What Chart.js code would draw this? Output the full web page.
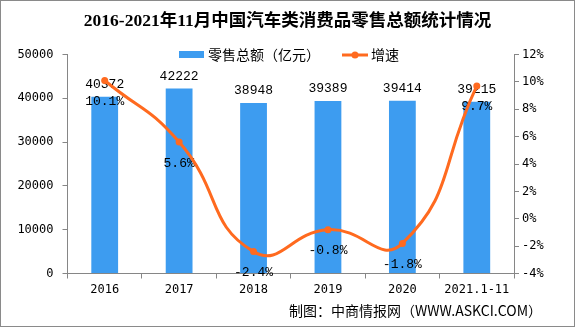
<!DOCTYPE html>
<html>
<head>
<meta charset="utf-8">
<script src="https://cdn.jsdelivr.net/npm/chart.js@4"></script>
<style>
  body { margin: 0; background: #fff; }
  canvas { display: block; }
</style>
</head>
<body>
<canvas id="grafico" width="575" height="327"></canvas>
<script>
const anos = ["2016", "2017", "2018", "2019", "2020", "2021.1-11"];
const vendas = [40372, 42222, 38948, 39389, 39414, 39215];
const crescimento = [10.1, 5.6, -2.4, -0.8, -1.8, 9.7];
const ticksEsquerda = [0, 10000, 20000, 30000, 40000, 50000];
const ticksDireita = [-4, -2, 0, 2, 4, 6, 8, 10, 12];

const azul = "#3d9cf0";
const laranja = "#ff6a1f";
const cinza = "#868686";
const fonteTexto = '"Noto Sans CJK SC", sans-serif';
const fonteNum = '"DejaVu Sans Mono", monospace';
const fonteRotulo = '"Liberation Mono", monospace';

// rotulos dos valores, desenhados logo depois das barras (a linha passa por cima)
const rotulos = {
  id: "rotulos",
  afterDatasetDraw(chart, args) {
    if (args.index !== 0) return;
    const ctx = chart.ctx;
    ctx.save();
    ctx.font = "13px " + fonteRotulo;
    ctx.fillStyle = "#000";
    ctx.textAlign = "center";
    ctx.textBaseline = "middle";
    chart.getDatasetMeta(0).data.forEach((bar, i) => {
      ctx.fillText(String(vendas[i]), bar.x, bar.y - 12);
    });
    chart.getDatasetMeta(1).data.forEach((pt, i) => {
      ctx.fillText(crescimento[i].toFixed(1) + "%", pt.x, pt.y + 21);
    });
    ctx.restore();
  },
  afterDraw(chart) {
    const ctx = chart.ctx;
    ctx.save();
    // legenda
    ctx.fillStyle = azul;
    ctx.fillRect(179, 51, 25, 7);
    ctx.font = "14px " + fonteTexto;
    ctx.fillStyle = "#000";
    ctx.textBaseline = "middle";
    ctx.textAlign = "left";
    ctx.fillText("零售总额（亿元）", 208, 55);
    ctx.strokeStyle = laranja;
    ctx.lineWidth = 3;
    ctx.beginPath();
    ctx.moveTo(342, 55);
    ctx.lineTo(368, 55);
    ctx.stroke();
    ctx.fillStyle = laranja;
    ctx.beginPath();
    ctx.arc(355, 55, 3.5, 0, Math.PI * 2);
    ctx.fill();
    ctx.fillStyle = "#000";
    ctx.fillText("增速", 371, 55);
    // fonte
    ctx.textAlign = "right";
    ctx.font = "14px " + fonteTexto;
    ctx.fillText("制图：中商情报网（WWW.ASKCI.COM）", 542, 311);
    // moldura
    ctx.strokeStyle = "#8a8a8a";
    ctx.lineWidth = 1;
    ctx.strokeRect(0.5, 0.5, 574, 326);
    ctx.restore();
  }
};

new Chart(document.getElementById("grafico"), {
  data: {
    labels: anos,
    datasets: [
      {
        type: "bar",
        label: "零售总额（亿元）",
        data: vendas,
        backgroundColor: azul,
        yAxisID: "y",
        order: 2,
        barPercentage: 0.36,
        categoryPercentage: 1
      },
      {
        type: "line",
        label: "增速",
        data: crescimento,
        borderColor: laranja,
        backgroundColor: laranja,
        borderWidth: 3,
        pointRadius: 3.5,
        pointBackgroundColor: laranja,
        pointBorderWidth: 0,
        tension: 0.5,
        yAxisID: "y1",
        order: 1
      }
    ]
  },
  plugins: [rotulos],
  options: {
    responsive: false,
    animation: false,
    devicePixelRatio: 1,
    layout: { padding: { left: 0, right: 0, top: 0, bottom: 0 } },
    plugins: {
      legend: { display: false },
      tooltip: { enabled: false },
      title: {
        display: true,
        text: "2016-2021年11月中国汽车类消费品零售总额统计情况",
        color: "#000",
        font: { family: '"Liberation Serif", "Noto Sans CJK SC", serif', size: 17.5, weight: "bold" },
        padding: { top: 11, bottom: 22.5 }
      }
    },
    scales: {
      x: {
        offset: true,
        grid: { display: true, drawOnChartArea: false, tickLength: 5, color: cinza, offset: true },
        border: { color: cinza },
        ticks: { color: "#000", font: { family: fonteNum, size: 12 }, padding: 4, maxRotation: 0 },
        afterFit(scale) { scale.height = 53.5; }
      },
      y: {
        position: "left",
        min: 0,
        max: 50000,
        afterBuildTicks(scale) { scale.ticks = ticksEsquerda.map(v => ({ value: v })); },
        grid: { drawOnChartArea: false, tickLength: 5, color: cinza },
        border: { color: cinza },
        ticks: { color: "#000", font: { family: fonteNum, size: 12 }, padding: 9, callback: v => String(v) },
        afterFit(scale) { scale.width = 67.5; }
      },
      y1: {
        position: "right",
        min: -4,
        max: 12,
        afterBuildTicks(scale) { scale.ticks = ticksDireita.map(v => ({ value: v })); },
        grid: { drawOnChartArea: false, tickLength: 5, color: cinza },
        border: { color: cinza },
        ticks: { color: "#000", font: { family: fonteNum, size: 12 }, padding: 3, callback: v => v + "%" },
        afterFit(scale) { scale.width = 61; }
      }
    }
  }
});
</script>
</body>
</html>
